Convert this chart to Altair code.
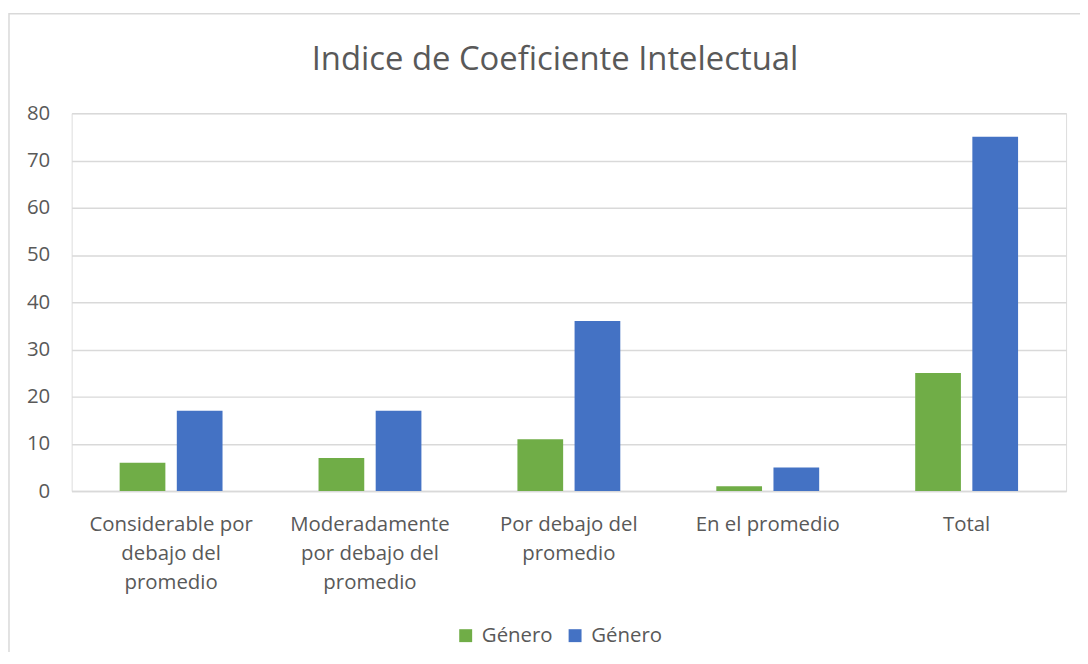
import altair as alt
import pandas as pd

categories = [
    "Considerable por\ndebajo del\npromedio",
    "Moderadamente\npor debajo del\npromedio",
    "Por debajo del\npromedio",
    "En el promedio",
    "Total",
]
series_names = ["Género A", "Género B"]
green_values = [6, 7, 11, 1, 25]
blue_values = [17, 17, 36, 5, 75]
colors = ["#70AD47", "#4472C4"]
y_ticks = [0, 10, 20, 30, 40, 50, 60, 70, 80]
title_text = "Indice de Coeficiente Intelectual"

rows = []
for c, g, b in zip(categories, green_values, blue_values):
    rows.append({"cat": c, "serie": series_names[0], "valor": g})
    rows.append({"cat": c, "serie": series_names[1], "valor": b})
df = pd.DataFrame(rows)

FONT = "Open Sans"
TXT = "#595959"
GRID = "#d9d9d9"
FS = 20.5

bars = alt.Chart(df).mark_bar().encode(
    x=alt.X(
        "cat:N",
        sort=categories,
        title=None,
        scale=alt.Scale(paddingInner=0, paddingOuter=0),
        axis=alt.Axis(
            labelExpr="split(datum.label, '\\n')",
            labelAngle=0,
            labelFontSize=FS,
            labelColor=TXT,
            labelFont=FONT,
            labelLineHeight=29,
            labelPadding=24,
            ticks=False,
            domain=True,
            domainColor=GRID,
            domainWidth=1.5,
            grid=False,
        ),
    ),
    xOffset=alt.XOffset(
        "serie:N",
        sort=series_names,
        scale=alt.Scale(paddingInner=0.2, paddingOuter=0.84),
    ),
    y=alt.Y(
        "valor:Q",
        title=None,
        scale=alt.Scale(domain=[0, 80], nice=False),
        axis=alt.Axis(
            values=y_ticks,
            labelFontSize=FS,
            labelColor=TXT,
            labelFont=FONT,
            labelPadding=22,
            ticks=False,
            domain=False,
            grid=True,
            gridColor=GRID,
            gridWidth=1.5,
        ),
    ),
    color=alt.Color(
        "serie:N",
        sort=series_names,
        scale=alt.Scale(domain=series_names, range=colors),
        legend=alt.Legend(
            title=None,
            orient="none",
            legendX=386,
            legendY=515,
            direction="horizontal",
            labelExpr="'Género'",
            labelFontSize=FS,
            labelFont=FONT,
            labelColor=TXT,
            symbolType="square",
            symbolSize=169,
            symbolStrokeWidth=0,
            labelOffset=6,
            columnPadding=12,
        ),
    ),
)

border = alt.Chart(pd.DataFrame({"a": [0]})).mark_rect(
    fill=None, stroke=GRID, strokeWidth=1.5
).encode(
    x=alt.value(-63),
    x2=alt.value(1100),
    y=alt.value(-100),
    y2=alt.value(620),
)

title = alt.Chart(pd.DataFrame({"t": [title_text]})).mark_text(
    font=FONT, fontSize=33, color=TXT, align="center", baseline="alphabetic"
).encode(
    text="t:N",
    x=alt.value(486),
    y=alt.value(-43),
)

chart = alt.layer(border, title, bars).properties(
    width=1000,
    height=380,
    padding={"left": 64, "top": 104, "right": 14, "bottom": 160},
    autosize=alt.AutoSizeParams(type="none"),
).configure_view(stroke=None).configure(background="white")

chart.save("out.html", embed_options={"renderer": "svg", "actions": False})
